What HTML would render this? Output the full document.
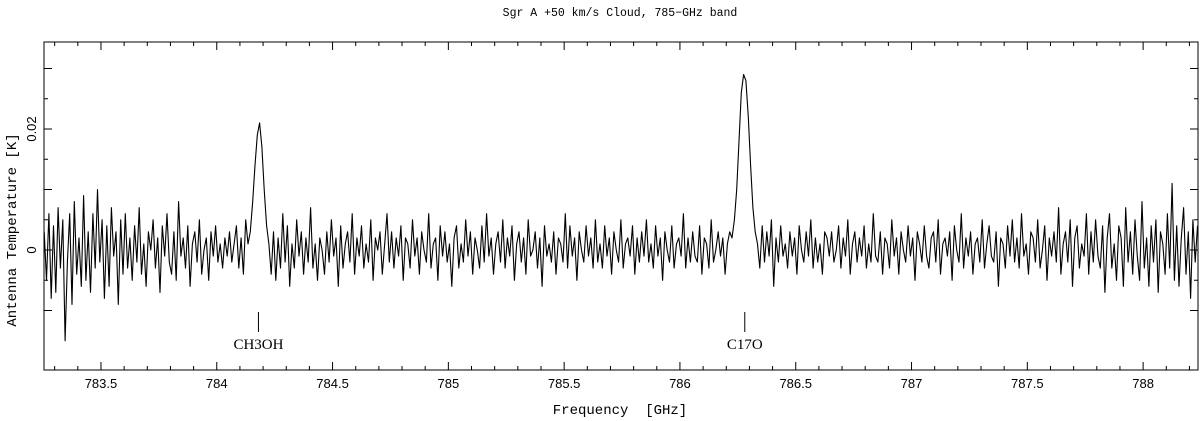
<!DOCTYPE html>
<html><head><meta charset="utf-8"><style>
html,body{margin:0;padding:0;background:#fff;width:1200px;height:421px;overflow:hidden}
svg{display:block}
</style></head><body>
<svg id="chart" width="1200" height="421" xmlns="http://www.w3.org/2000/svg">
<text x="620" y="16" text-anchor="middle" font-family="Liberation Mono, monospace" font-size="11.5">Sgr A  +50 km/s Cloud, 785−GHz band</text>
<text x="620" y="414" text-anchor="middle" font-family="Liberation Mono, monospace" font-size="14" xml:space="preserve">Frequency  [GHz]</text>
<text transform="translate(16,230) rotate(-90)" text-anchor="middle" font-family="Liberation Mono, monospace" font-size="14">Antenna Temperature [K]</text>
<g id="axes"></g>
<g id="series"></g>
<g id="markers"></g>
</svg>
<script>
const freqStart = 783.255;
const freqStep = 0.01;
const tempMilliK = [
3,-5,6,-8,4,-7,7,-3,5,-15,-2,6,-9,8,-4,2,-6,9,-5,3,
-7,6,-3,10,-2,5,-8,4,-6,7,-1,3,-9,5,-4,6,-3,2,-5,4,
-2,7,-4,1,-6,3,0,5,-3,2,-7,4,-1,6,-2,-4,3,-5,8,-1,
2,-3,4,-6,1,3,-2,5,-4,0,2,-5,3,-1,4,-2,1,-3,2,-1,
3,-2,1,4,-3,2,-4,5,1,3,8,14,19,21,17,10,4,1,-4,3,
-5,2,-3,6,-2,4,-6,1,-3,5,-1,3,-4,2,-2,7,-3,1,-5,2,
0,-4,3,-2,5,-1,2,-6,4,-3,1,3,-2,6,-4,2,-1,4,-3,1,
-2,5,-5,2,0,3,-4,1,6,-2,3,-3,2,-1,4,-5,2,1,-3,5,
-1,2,-4,3,0,-2,6,-3,1,2,-5,4,-1,3,-2,1,-6,2,4,-3,
1,-2,5,-1,3,-4,2,0,-3,4,-2,6,-1,2,-4,1,3,-2,5,-3,
2,-1,4,-5,1,3,-2,2,-4,5,-1,0,3,-3,2,-6,4,-1,1,-2,
3,-4,2,1,-2,6,-3,4,-1,2,-5,3,0,-2,4,-1,2,-3,5,-2,
1,-3,4,-1,2,-4,3,0,-2,5,-3,1,2,-1,4,-4,2,-2,3,-1,
5,-2,1,-3,4,-1,2,-5,3,0,-2,4,-3,1,2,-1,6,-3,2,-2,
3,-1,-2,4,-4,2,1,-3,5,-2,0,3,-1,2,-4,1,3,2,5,10,
18,26,29,28,22,14,7,3,1,-3,4,-2,3,-1,5,-6,2,-2,4,-1,
1,-3,3,-1,2,-4,4,0,-2,3,-1,5,-3,2,-2,1,-4,3,2,-1,
3,-2,0,4,-3,2,-1,5,-4,1,3,-2,2,-1,4,-3,1,-2,6,-1,
-2,3,-4,2,1,-3,5,-1,2,-4,3,0,-2,4,-1,2,-5,3,1,-2,
4,-1,-3,2,3,-2,5,-4,1,2,-1,3,-5,4,0,-2,6,-3,2,-1,
3,-4,1,2,-2,5,-3,1,4,-1,-2,3,-6,2,1,-3,4,-1,5,-2,
2,-3,6,-1,1,-4,3,2,-2,5,-3,0,4,-5,2,-1,3,-2,7,-4,
1,3,-2,5,-6,2,4,-3,1,-1,6,-4,3,-2,5,-1,-3,4,-7,2,
6,-3,1,-5,4,2,-6,7,-2,3,-4,5,-1,-5,8,-3,2,-6,4,-2,
5,-7,3,1,-4,6,-3,11,-5,4,-6,2,7,-4,3,-8,5,-2,4
];
const xTickValues = [783.5,784,784.5,785,785.5,786,786.5,787,787.5,788];
const xTickLabels = ["783.5","784","784.5","785","785.5","786","786.5","787","787.5","788"];
const yTickValues = [0,0.02];
const yTickLabels = ["0","0.02"];
const lineNames = ["CH3OH","C17O"];
const lineFreqs = [784.18,786.28];

const L=44,R=1198,T=42,B=370;
const fMin=783.254,fMax=788.237;
function xs(f){return L+(f-fMin)/(fMax-fMin)*(R-L);}
function ys(v){return 250-v*6050;}
const NS="http://www.w3.org/2000/svg";
function mk(tag,attrs,parent){const e=document.createElementNS(NS,tag);for(const k in attrs)e.setAttribute(k,attrs[k]);parent.appendChild(e);return e;}
const axes=document.getElementById('axes');
const frame=mk('rect',{x:L,y:T,width:R-L,height:B-T,fill:'none',stroke:'#000','stroke-width':1},axes);


for(let k=Math.ceil(fMin*10);k<=Math.floor(fMax*10);k++){
  const f=k/10,x=xs(f),maj=(k%5===0);const len=maj?8:4;
  const t1=mk('line',{x1:x,x2:x,y1:B,y2:B-len,stroke:'#000'},axes);
  
  
  const t2=mk('line',{x1:x,x2:x,y1:T,y2:T+len,stroke:'#000'},axes);
  
  
}
xTickValues.forEach((v,i)=>{
  const t=mk('text',{x:xs(v),y:B+18,'text-anchor':'middle','font-family':'Liberation Sans, sans-serif','font-size':13},axes);
  t.textContent=xTickLabels[i];
  
  
});
for(let k=-2;k<=6;k++){
  const v=k*0.005,y=ys(v);if(y<T||y>B)continue;
  const len=(k%2===0)?8:4;
  const a=mk('line',{x1:L,x2:L+len,y1:y,y2:y,stroke:'#000'},axes);
  
  
  const b=mk('line',{x1:R,x2:R-len,y1:y,y2:y,stroke:'#000'},axes);
  
  
}
yTickValues.forEach((v,i)=>{
  const t=mk('text',{transform:`translate(36,${ys(v)}) rotate(-90)`,'text-anchor':'middle','font-family':'Liberation Sans, sans-serif','font-size':13},axes);
  t.textContent=yTickLabels[i];
  
  
});
const pts=tempMilliK.map((v,i)=>xs(freqStart+i*freqStep).toFixed(1)+','+ys(v/1000).toFixed(1)).join(' ');
const pl=mk('polyline',{points:pts,fill:'none',stroke:'#000','stroke-width':1.1,'stroke-linejoin':'round'},document.getElementById('series'));


const mg=document.getElementById('markers');
lineFreqs.forEach((f,i)=>{
  const x=xs(f);
  const l=mk('line',{x1:x,x2:x,y1:312,y2:332,stroke:'#000'},mg);
  
  
  const t=mk('text',{x:x,y:349,'text-anchor':'middle','font-family':'Liberation Serif, serif','font-size':15},mg);
  t.textContent=lineNames[i];
  
  
});
</script>
</body></html>
